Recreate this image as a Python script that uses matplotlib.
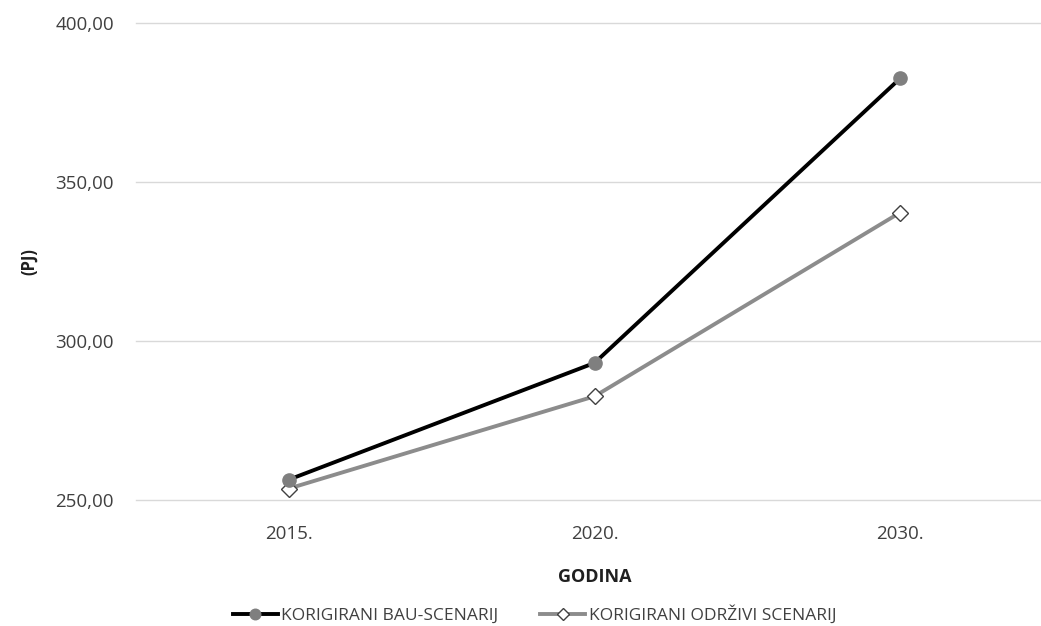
import matplotlib
matplotlib.use('Agg')
import matplotlib.pyplot as plt
from matplotlib.ticker import FuncFormatter

plt.rcParams['font.family'] = ['Open Sans', 'DejaVu Sans']

YEARS = ['2015.', '2020.', '2030.']
BAU = [256.4, 293.1, 382.6]
ODRZIVI = [253.6, 282.6, 340.4]
Y_TICKS = [250, 300, 350, 400]

fig = plt.figure(figsize=(10.41, 6.26), dpi=100)
ax = fig.add_axes([136 / 1041, 1 - 500 / 626, (1053 - 136) / 1041, (500 - 23) / 626])

x = range(len(YEARS))
ax.plot(x, BAU, color='#000000', linewidth=2.8, marker='o', markersize=9.5,
        markerfacecolor='#7f7f7f', markeredgecolor='#7f7f7f',
        label='KORIGIRANI BAU-SCENARIJ', zorder=4)
ax.plot(x, ODRZIVI, color='#8c8c8c', linewidth=2.8, marker='D', markersize=8,
        markerfacecolor='white', markeredgecolor='#404040', markeredgewidth=1,
        label='KORIGIRANI ODRŽIVI SCENARIJ', zorder=3)

ax.set_xlim(-0.5, 2.5)
ax.set_ylim(250, 400)
ax.set_xticks(list(x))
ax.set_xticklabels(YEARS)
ax.set_yticks(Y_TICKS)
ax.yaxis.set_major_formatter(FuncFormatter(lambda v, p: f'{v:.2f}'.replace('.', ',')))
ax.grid(axis='y', color='#d9d9d9', linewidth=1)
for g in ax.get_ygridlines():
    g.set_clip_on(False)
ax.set_axisbelow(True)
for s in ax.spines.values():
    s.set_visible(False)
ax.tick_params(length=0, labelsize=13.5, colors='#404040')
ax.tick_params(axis='x', pad=18)
ax.tick_params(axis='y', pad=16)

ax.set_xlabel('GODINA', fontsize=13, fontweight='bold', color='#202020', labelpad=18)
ax.set_ylabel('(PJ)', fontsize=12, fontweight='bold', color='#202020', labelpad=12)

leg = ax.legend(loc='upper center', bbox_to_anchor=(0.5 - 60 / 917, -0.188), ncol=2, frameon=False,
                fontsize=12.5, handlelength=2.6, columnspacing=2.4, handletextpad=0.2,
                labelcolor='#404040', markerscale=0.8)

fig.savefig('out.png', dpi=100, facecolor='white')
